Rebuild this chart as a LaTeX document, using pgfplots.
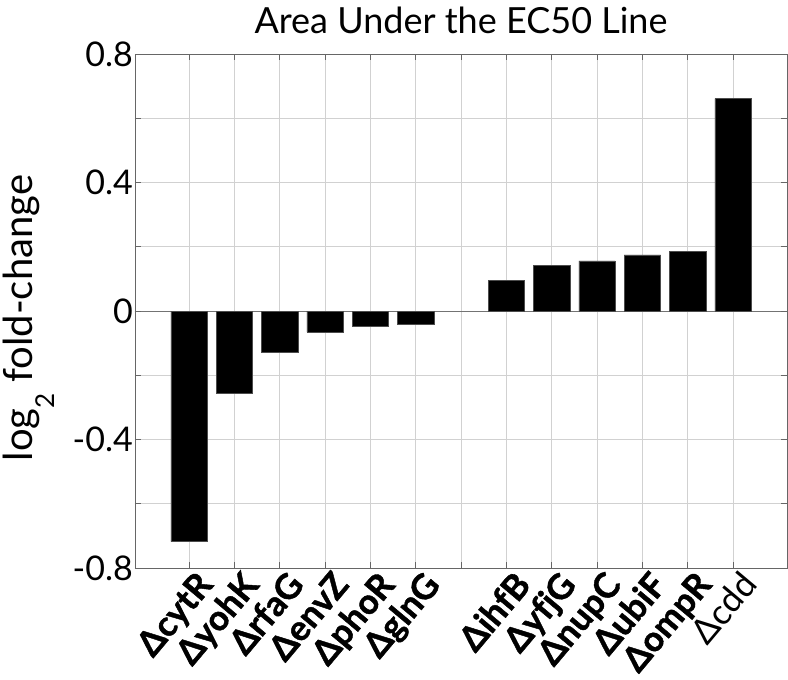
\documentclass[border=0pt]{standalone}
\usepackage{pgfplots}
\pgfplotsset{compat=1.18}
\usepackage{fontspec}
\setmainfont{Lato}[Ligatures=NoCommon]
\newfontfamily\heavy{Lato}[Ligatures=NoCommon, BoldFeatures={FakeBold=1.2}]
\newcommand{\B}[1]{\heavy\bfseries Δ#1}
\begin{document}
\begin{tikzpicture}
\begin{axis}[
  scale only axis, width=652pt, height=514pt,
  xmin=-0.19, xmax=14.19, ymin=-0.8, ymax=0.8,
  xtick={1,...,13},
  xticklabels={\B{cytR},\B{yohK},\B{rfaG},\B{envZ},\B{phoR},\B{glnG},{},\B{ihfB},\B{yfjG},\B{nupC},\B{ubiF},\B{ompR},{Δcdd}},
  xticklabel style={xshift=6pt, yshift=-1pt, rotate=50, anchor=north east, font=\fontsize{35}{35}\selectfont, inner sep=0pt},
  ytick={-0.8,-0.4,0,0.4,0.8},
  yticklabels={-0.8,-0.4,0,0.4,0.8},
  minor ytick={-0.6,-0.2,0.2,0.6},
  yticklabel style={font=\fontsize{34}{34}\selectfont, inner sep=2pt},
  xmajorgrids, ymajorgrids, yminorgrids,
  grid style={black!18, line width=0.6pt},
  minor grid style={black!18, line width=0.6pt},
  major tick length=6pt, minor tick length=6pt,
  tick align=inside,
  tick style={black!60, line width=0.6pt},
  axis line style={black!60, line width=0.8pt},
  extra y ticks={0}, extra y tick labels={},
  extra y tick style={grid style={black!55, line width=0.8pt}},
  title={Area Under the EC50 Line},
  title style={font=\fontsize{36}{36}\selectfont, yshift=11pt},
  ylabel={log\raisebox{-22pt}{\fontsize{26}{26}\selectfont 2} fold-change},
  ylabel style={font=\fontsize{40}{40}\selectfont, at={([xshift=-102pt, yshift=-7pt]rel axis cs:0,0.5)}, anchor=base},
]
\addplot[ybar, bar width=0.8, fill=black, draw=black!70, line width=0.5pt] coordinates {
  (1,-0.718) (2,-0.255) (3,-0.127) (4,-0.066) (5,-0.047) (6,-0.041)
  (8,0.0965) (9,0.142) (10,0.156) (11,0.175) (12,0.186) (13,0.661)
};
\coordinate (SW) at (rel axis cs:0,0);
\end{axis}
\pgfresetboundingbox
\useasboundingbox ([shift={(-135pt,-112pt)}]SW) rectangle ([shift={(653pt,568pt)}]SW);
\end{tikzpicture}
\end{document}
